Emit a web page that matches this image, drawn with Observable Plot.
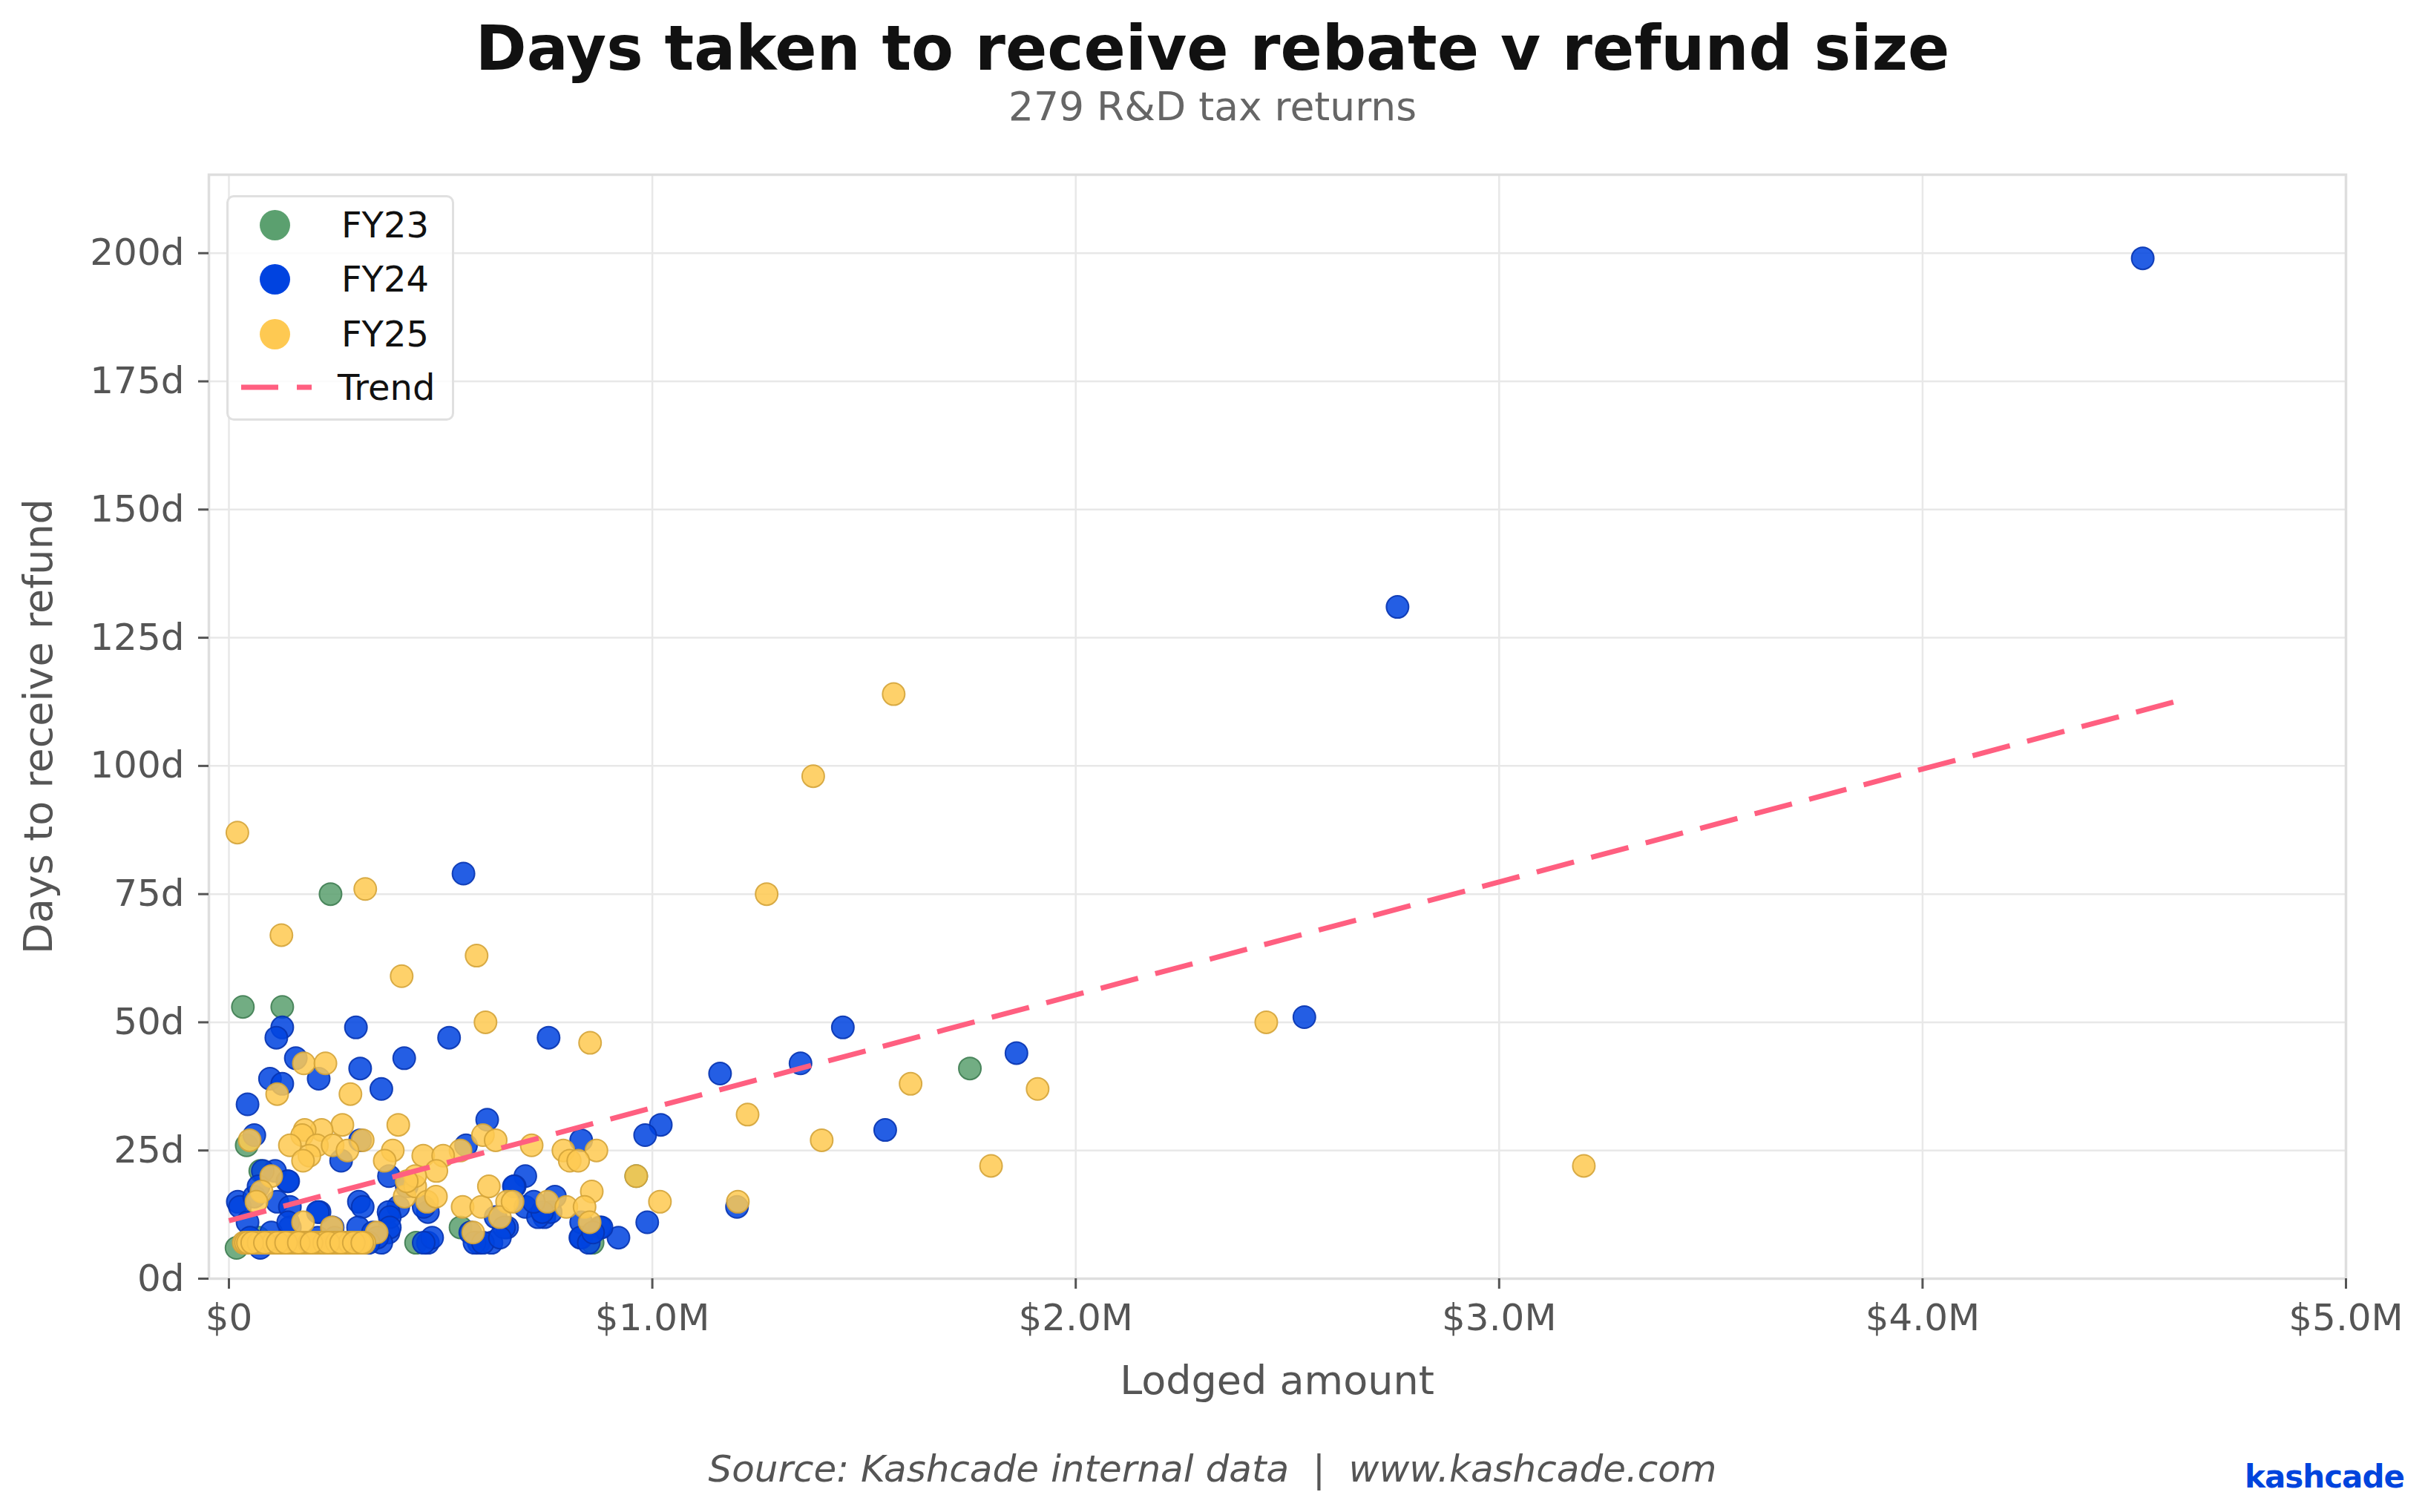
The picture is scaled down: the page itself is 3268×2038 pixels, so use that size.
<!DOCTYPE html>
<html>
<head>
<meta charset="utf-8">
<script src="https://cdn.jsdelivr.net/npm/d3@7"></script>
<script src="https://cdn.jsdelivr.net/npm/@observablehq/plot@0.6"></script>
<style>
  html, body { margin: 0; padding: 0; background: #fff; }
  #wrap { position: relative; width: 3268px; height: 2038px; background: #fff; font-family: "DejaVu Sans", sans-serif; overflow: hidden; }
  #chart { position: absolute; left: 0; top: 0; }
  .txt { position: absolute; white-space: nowrap; line-height: 1; }
  #title { left: 0; width: 3268px; text-align: center; top: 24px; font-size: 83px; font-weight: bold; color: #111; }
  #subtitle { left: 0; width: 3268px; text-align: center; top: 117px; font-size: 53.5px; color: #666; }
  #xlabel { left: 1221px; width: 1000px; text-align: center; top: 1834px; font-size: 54px; color: #555; }
  #ylabel { left: -448px; width: 1000px; text-align: center; top: 952px; font-size: 54px; color: #555; transform: rotate(-90deg); transform-origin: 500px 27px; }
  #source { left: 0; width: 3268px; text-align: center; top: 1955px; font-size: 50px; font-style: italic; color: #555; }
  #logo { right: 28px; top: 1970px; font-size: 42px; font-weight: bold; color: #0044dd; letter-spacing: -1px; }
  #legend { position: absolute; left: 305px; top: 263px; width: 301px; height: 298px; border: 3px solid #e0e0e0; border-radius: 10px; background: rgba(255,255,255,0.8); }
  .lg { position: absolute; left: 0; height: 60px; display: flex; align-items: center; }
  .lg .sw { position: absolute; left: 42px; width: 41px; height: 41px; border-radius: 50%; }
  .lg .lab { position: absolute; left: 152px; font-size: 48px; color: #111; line-height: 1; white-space: nowrap; }
</style>
</head>
<body>
<div id="wrap">
  <div id="chart"></div>
  <div class="txt" id="title">Days taken to receive rebate v refund size</div>
  <div class="txt" id="subtitle">279 R&amp;D tax returns</div>
  <div class="txt" id="xlabel">Lodged amount</div>
  <div class="txt" id="ylabel">Days to receive refund</div>
  <div class="txt" id="source">Source: Kashcade internal data&nbsp;&nbsp;|&nbsp;&nbsp;www.kashcade.com</div>
  <div class="txt" id="logo">kashcade</div>
  <div id="legend"></div>
</div>
<script>
// ---- Data (lodged amount in $M, days to receive refund) ----
const fy23Amount = [0.24, 0.033, 0.126, 1.75, 0.042, 0.074, 0.962, 0.547, 0.442, 0.859, 0.018, 0.07];
const fy23Days   = [75,   53,    53,    41,   26,    21,    20,    10,    7,     7,     6,     8];

const fy24Amount = [
  4.52, 2.76, 2.54, 1.86, 1.45, 1.35, 1.16, 1.55, 1.02, 0.983,
  1.2, 0.988, 0.92, 0.832, 0.876, 0.832, 0.745, 0.76, 0.77, 0.70,
  0.70, 0.675, 0.832, 0.554, 0.52, 0.755, 0.414, 0.31, 0.30, 0.126,
  0.112, 0.158, 0.097, 0.126, 0.212, 0.36, 0.044, 0.61, 0.06, 0.31,
  0.56, 0.265, 0.378, 0.109, 0.138, 0.021, 0.026, 0.044, 0.114, 0.144,
  0.214, 0.144, 0.307, 0.316, 0.245, 0.305, 0.377, 0.40, 0.377, 0.47,
  0.673, 0.657, 0.59, 0.62, 0.47, 0.074, 0.06, 0.05, 0.08, 0.14,
  0.07, 0.42, 0.46, 0.38, 0.63, 0.73, 0.38, 0.65, 0.88, 0.34,
  0.57, 0.83, 0.48, 0.46, 0.58, 0.85, 0.36, 0.30, 0.12, 0.17,
  0.20, 0.25, 0.10, 0.21, 0.14, 0.74, 0.72, 0.04, 0.06, 0.09,
  0.11, 0.14, 0.16, 0.19, 0.22, 0.24, 0.27, 0.29, 0.32, 0.08,
  0.13, 0.18, 0.23, 0.28, 0.60, 0.64, 0.86, 0.35, 0.05, 0.07,
  0.10, 0.12, 0.15, 0.17, 0.20, 0.26, 0.31, 0.33, 0.21, 0.25
];
const fy24Days = [
  199, 131, 51, 44, 49, 42, 40, 29, 30, 28,
  14, 11, 8, 8, 10, 11, 12, 13, 16, 14,
  20, 18, 27, 79, 47, 47, 43, 41, 49, 49,
  47, 43, 39, 38, 39, 37, 34, 31, 28, 27,
  26, 23, 20, 21, 19, 15, 14, 11, 15, 14,
  13, 10, 15, 14, 10, 10, 9, 14, 13, 13,
  18, 10, 7, 7, 7, 6, 16, 8, 21, 19,
  18, 18, 14, 12, 12, 12, 10, 10, 10, 9,
  9, 8, 8, 7, 7, 7, 7, 7, 7, 7,
  7, 7, 9, 13, 11, 13, 15, 7, 7, 7,
  7, 7, 7, 7, 7, 7, 7, 7, 7, 7,
  7, 7, 7, 7, 7, 8, 9, 8, 7, 7,
  7, 7, 7, 7, 7, 7, 7, 7, 8, 8
];

const fy25Amount = [
  1.57, 1.38, 0.02, 0.322, 1.27, 0.124, 0.585, 0.408, 0.606, 2.45,
  0.853, 0.177, 0.228, 1.61, 1.91, 0.114, 0.287, 1.225, 0.40, 0.268,
  0.219, 0.179, 0.173, 0.60, 0.049, 0.316, 0.63, 1.40, 0.144, 0.208,
  0.245, 0.547, 0.715, 0.28, 0.387, 0.79, 0.868, 0.19, 0.459, 0.506,
  0.175, 0.368, 0.805, 0.825, 1.80, 3.20, 0.49, 0.10, 0.962, 0.077,
  0.065, 0.175, 0.243, 0.349, 0.415, 0.44, 0.468, 0.489, 0.552, 0.577,
  0.596, 0.614, 0.657, 0.64, 0.67, 0.752, 0.797, 0.857, 0.84, 0.852,
  1.018, 1.202, 0.44, 0.42, 0.035, 0.05, 0.065, 0.08, 0.095, 0.11,
  0.125, 0.14, 0.155, 0.17, 0.185, 0.20, 0.215, 0.23, 0.245, 0.26,
  0.275, 0.29, 0.305, 0.32, 0.04, 0.06, 0.09, 0.12, 0.15, 0.18,
  0.21, 0.24, 0.27, 0.30, 0.10, 0.20, 0.25, 0.045, 0.07, 0.105,
  0.13, 0.16, 0.19, 0.225, 0.255, 0.285, 0.31, 0.055, 0.085, 0.115,
  0.135, 0.165, 0.195, 0.235, 0.265, 0.295, 0.315
];
const fy25Days = [
  114, 98, 87, 76, 75, 67, 63, 59, 50, 50,
  46, 42, 42, 38, 37, 36, 36, 32, 30, 30,
  29, 29, 28, 28, 27, 27, 27, 27, 26, 26,
  26, 25, 26, 25, 25, 25, 25, 24, 24, 24,
  23, 23, 23, 23, 22, 22, 21, 20, 20, 17,
  15, 11, 10, 9, 16, 18, 15, 16, 14, 9,
  14, 18, 15, 12, 15, 15, 14, 17, 14, 11,
  15, 15, 20, 19, 7, 7, 7, 7, 7, 7,
  7, 7, 7, 7, 7, 7, 7, 7, 7, 7,
  7, 7, 7, 7, 7, 7, 7, 7, 7, 7,
  7, 7, 7, 7, 7, 7, 7, 7, 7, 7,
  7, 7, 7, 7, 7, 7, 7, 7, 7, 7,
  7, 7, 7, 7, 7, 7, 7
];

// Trend line endpoints
const trendAmount = [0, 4.6];
const trendDays   = [11.3, 112.6];

// Ticks
const xTicks = [0, 1, 2, 3, 4, 5];
const yTicks = [0, 25, 50, 75, 100, 125, 150, 175, 200];

// Series styling
const seriesNames  = ["FY23", "FY24", "FY25"];
const seriesFill   = ["#5ba06f", "#0043e0", "#fec952"];
const seriesStroke = ["#3f7d52", "#0633b0", "#d4a43a"];
const trendColor = "#ff5f80";

const toRows = (xs, ys) => xs.map((x, i) => ({amount: x, days: ys[i]}));
const fy23 = toRows(fy23Amount, fy23Days);
const fy24 = toRows(fy24Amount, fy24Days);
const fy25 = toRows(fy25Amount, fy25Days);
const trend = toRows(trendAmount, trendDays);

const dotOpts = (i) => ({
  x: "amount", y: "days", r: 15,
  fill: seriesFill[i], fillOpacity: 0.86,
  stroke: seriesStroke[i], strokeWidth: 2, strokeOpacity: 0.9
});

const chart = Plot.plot({
  width: 3268,
  height: 2038,
  marginLeft: 281,
  marginRight: 107,
  marginTop: 235,
  marginBottom: 315,
  style: {fontFamily: "DejaVu Sans, sans-serif", fontSize: "50px", color: "#555", background: "#fff", overflow: "visible"},
  x: {domain: [-0.0473, 5.0], label: null},
  y: {domain: [0, 215.3], label: null},
  marks: [
    Plot.gridX(xTicks, {stroke: "#e8e8e8", strokeOpacity: 1, strokeWidth: 2.5}),
    Plot.gridY(yTicks, {stroke: "#e8e8e8", strokeOpacity: 1, strokeWidth: 2.5}),
    Plot.frame({stroke: "#dedede", strokeWidth: 3.5}),
    Plot.dot(fy23, dotOpts(0)),
    Plot.dot(fy24, dotOpts(1)),
    Plot.dot(fy25, dotOpts(2)),
    Plot.line(trend, {x: "amount", y: "days", stroke: trendColor, strokeWidth: 7, strokeDasharray: "52,24", strokeLinecap: "butt"}),
    Plot.axisX(xTicks, {
      tickFormat: d => d === 0 ? "$0" : `$${d.toFixed(1)}M`,
      tickSize: 14, tickPadding: 19.5, fontSize: 50, label: null,
      stroke: "#555", strokeWidth: 3, fill: "#555"
    }),
    Plot.axisY(yTicks, {
      tickFormat: d => `${d}d`,
      tickSize: 14, tickPadding: 19, fontSize: 50, label: null,
      stroke: "#555", strokeWidth: 3, fill: "#555"
    })
  ]
});
document.getElementById("chart").appendChild(chart);

// Legend
const legend = document.getElementById("legend");
const rowCenters = [40, 113, 187, 259];
seriesNames.forEach((name, i) => {
  const row = document.createElement("div");
  row.className = "lg";
  row.style.top = (rowCenters[i] - 3 - 30) + "px";
  row.style.width = "300px";
  row.innerHTML = `<span class="sw" style="background:${seriesFill[i]}"></span><span class="lab">${name}</span>`;
  legend.appendChild(row);
});
const trow = document.createElement("div");
trow.className = "lg";
trow.style.top = (rowCenters[3] - 3 - 30) + "px";
trow.style.width = "300px";
trow.innerHTML = `<svg width="100" height="20" style="position:absolute;left:17px;top:20px"><line x1="0" y1="10" x2="95" y2="10" stroke="${trendColor}" stroke-width="7" stroke-dasharray="50,25"/></svg><span class="lab" style="left:147px">Trend</span>`;
legend.appendChild(trow);
</script>
</body>
</html>
